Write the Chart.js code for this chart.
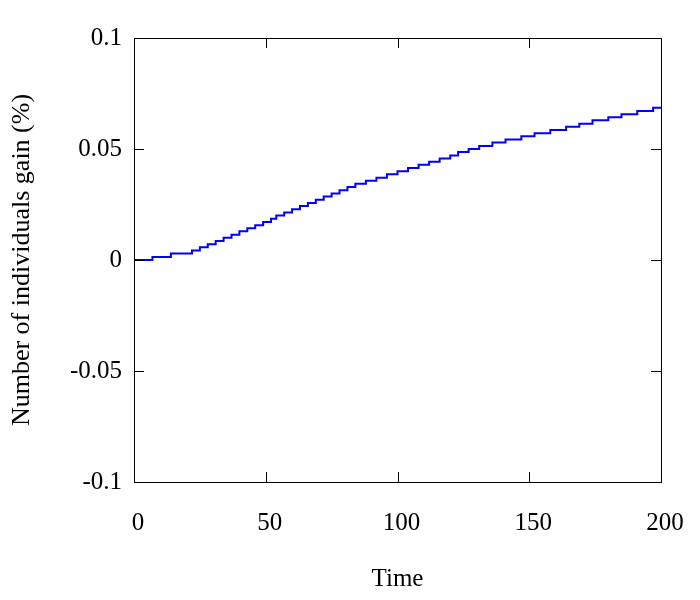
<!DOCTYPE html>
<html>
<head>
<meta charset="utf-8">
<script src="https://cdn.jsdelivr.net/npm/chart.js@4"></script>
<style>
  html, body { margin: 0; padding: 0; background: #fff; }
  #wrap { width: 700px; height: 600px; }
</style>
</head>
<body>
<div id="wrap"><canvas id="c" width="700" height="600"></canvas></div>
<script>
// Times at which the count steps up
const times = [0, 7, 14, 22, 25, 28, 31, 34, 37, 40, 43, 46, 49, 52, 54, 57, 60, 63, 66, 69,
  72, 75, 78, 81, 84, 88, 92, 96, 100, 104, 108, 112, 116, 120, 123, 127, 131, 136, 141, 147,
  152, 158, 164, 169, 174, 180, 185, 191, 197, 200];
// Gain (%) after each step
const gains = [0, 0.0014, 0.0029, 0.0043, 0.0057, 0.0071, 0.0086, 0.0100, 0.0114, 0.0129,
  0.0143, 0.0157, 0.0171, 0.0186, 0.0200, 0.0214, 0.0229, 0.0243, 0.0257, 0.0271,
  0.0286, 0.0300, 0.0314, 0.0329, 0.0343, 0.0357, 0.0371, 0.0386, 0.0400, 0.0414,
  0.0429, 0.0443, 0.0457, 0.0471, 0.0486, 0.0500, 0.0514, 0.0529, 0.0543, 0.0557,
  0.0571, 0.0586, 0.0600, 0.0614, 0.0629, 0.0643, 0.0657, 0.0671, 0.0686, 0.0686];
const xTicks = [0, 50, 100, 150, 200];
const yTicks = [-0.1, -0.05, 0, 0.05, 0.1];
const xTitle = 'Time';
const yTitle = 'Number of individuals gain (%)';

const FONT = '"Liberation Serif", "Times New Roman", serif';

const points = times.map((t, i) => ({ x: t, y: gains[i] }));

const frame = {
  id: 'frame',
  afterDatasetsDraw(chart) {
    const { ctx, chartArea: a, scales } = chart;
    ctx.save();
    ctx.strokeStyle = '#000';
    ctx.lineWidth = 1;
    ctx.beginPath();
    const L = 10;
    xTicks.forEach(v => {
      const px = Math.round(scales.x.getPixelForValue(v)) + 0.5;
      ctx.moveTo(px, a.bottom); ctx.lineTo(px, a.bottom - L);
      ctx.moveTo(px, a.top); ctx.lineTo(px, a.top + L);
    });
    yTicks.forEach(v => {
      const py = Math.round(scales.y.getPixelForValue(v)) + 0.5;
      ctx.moveTo(a.left, py); ctx.lineTo(a.left + L, py);
      ctx.moveTo(a.right, py); ctx.lineTo(a.right - L, py);
    });
    ctx.stroke();
    ctx.strokeRect(Math.round(a.left) + 0.5, Math.round(a.top) + 0.5,
      Math.round(a.right - a.left), Math.round(a.bottom - a.top));
    ctx.restore();
  }
};

new Chart(document.getElementById('c'), {
  type: 'line',
  data: {
    datasets: [{
      data: points,
      stepped: 'before',
      borderColor: '#0000ff',
      borderWidth: 2,
      pointRadius: 0,
      fill: false
    }]
  },
  options: {
    responsive: false,
    animation: false,
    layout: { padding: { left: 0, top: 38, right: 39, bottom: 0 } },
    plugins: { legend: { display: false }, tooltip: { enabled: false } },
    scales: {
      x: {
        type: 'linear',
        min: 0, max: 200,
        afterBuildTicks(s) { s.ticks = xTicks.map(v => ({ value: v })); },
        afterFit(s) { s.height = 118; s.paddingLeft = 0; s.paddingRight = 0; },
        grid: { display: false, drawTicks: false },
        border: { display: false },
        ticks: { color: '#000', font: { family: FONT, size: 25 }, padding: 26, maxRotation: 0,
          labelOffset: 4, callback: v => String(v) },
        title: { display: true, text: xTitle, color: '#000', font: { family: FONT, size: 25 },
          padding: { top: 0, bottom: 6 } }
      },
      y: {
        min: -0.1, max: 0.1,
        afterBuildTicks(s) { s.ticks = yTicks.map(v => ({ value: v })); },
        afterFit(s) { s.width = 134; s.paddingTop = 0; s.paddingBottom = 0; },
        grid: { display: false, drawTicks: false },
        border: { display: false },
        ticks: { color: '#000', font: { family: FONT, size: 25 }, padding: 12,
          callback: v => String(Math.round(v * 100) / 100) },
        title: { display: true, text: yTitle, color: '#000', font: { family: FONT, size: 26 },
          padding: { top: 7, bottom: 0 } }
      }
    }
  },
  plugins: [frame]
});
</script>
</body>
</html>
